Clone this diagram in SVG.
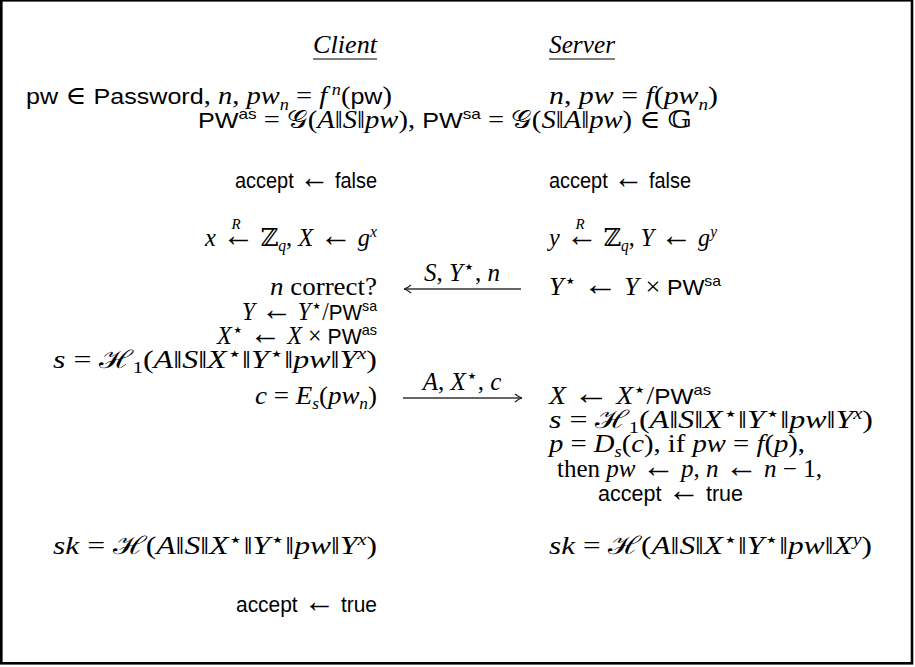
<svg xmlns="http://www.w3.org/2000/svg" width="915" height="667" viewBox="0 0 915 667">
<defs>
<style>
.t{font-family:"Liberation Serif","DejaVu Serif",serif;font-size:25px;fill:#000}
.i{font-style:italic}
.s{font-family:"Liberation Sans","DejaVu Sans",sans-serif;font-size:22px;font-style:normal}
.ar{font-family:"Liberation Sans","DejaVu Sans",sans-serif;font-size:33px;font-style:normal}
.sm{font-size:16px}
.ss{font-size:15px}
.st{font-size:19px;font-style:normal}
.conn{stroke:#333;stroke-width:1.3;fill:none}
</style>
<marker id="ah" viewBox="-9 -5 11 10" refX="0" refY="0" markerWidth="11" markerHeight="10" markerUnits="userSpaceOnUse" orient="auto">
<path d="M -7 -4 Q -3 -0.6 0 0 Q -3 0.6 -7 4" stroke="#222" stroke-width="1.2" fill="none"/>
</marker>
</defs>
<rect x="1.3" y="0.3" width="910.7" height="663" fill="#fff" stroke="#000" stroke-width="2.6"/>

<g id="client-title">
<text class="t i" x="345" y="53" text-anchor="middle" textLength="64" lengthAdjust="spacingAndGlyphs">Client</text>
<line x1="313" y1="59" x2="377" y2="59" stroke="#000" stroke-width="1.2"/>
</g>
<g id="server-title">
<text class="t i" x="549" y="53" textLength="66" lengthAdjust="spacingAndGlyphs">Server</text>
<line x1="549" y1="59" x2="615" y2="59" stroke="#000" stroke-width="1.2"/>
</g>

<g id="init">
<text class="t" x="26" y="104" textLength="366" lengthAdjust="spacingAndGlyphs"><tspan class="s">pw</tspan> ∈ <tspan class="s">Password</tspan>, <tspan class="i">n</tspan>, <tspan class="i">pw</tspan><tspan class="i sm" dy="6">n</tspan><tspan dy="-6"> = </tspan><tspan class="i">f</tspan><tspan class="i sm" dy="-9"> n</tspan><tspan dy="9">(</tspan><tspan class="s">pw</tspan>)</text>
<text class="t" x="549" y="104" textLength="169" lengthAdjust="spacingAndGlyphs"><tspan class="i">n</tspan>, <tspan class="i">pw</tspan> = <tspan class="i">f</tspan>(<tspan class="i">pw</tspan><tspan class="i sm" dy="6">n</tspan><tspan dy="-6">)</tspan></text>
<text class="t" x="198" y="128" textLength="494" lengthAdjust="spacingAndGlyphs"><tspan class="s">PW</tspan><tspan class="s ss" dy="-9">as</tspan><tspan dy="9"> = </tspan>𝒢(<tspan class="i">A</tspan>‖<tspan class="i">S</tspan>‖<tspan class="i">pw</tspan>), <tspan class="s">PW</tspan><tspan class="s ss" dy="-9">sa</tspan><tspan dy="9"> = </tspan>𝒢(<tspan class="i">S</tspan>‖<tspan class="i">A</tspan>‖<tspan class="i">pw</tspan>) ∈ 𝔾</text>
</g>

<g id="client-accept-false">
<text class="t" x="377" y="188" text-anchor="end" textLength="142" lengthAdjust="spacingAndGlyphs"><tspan class="s">accept</tspan> <tspan class="ar">←</tspan> <tspan class="s">false</tspan></text>
</g>
<g id="server-accept-false">
<text class="t" x="549" y="188" textLength="142" lengthAdjust="spacingAndGlyphs"><tspan class="s">accept</tspan> <tspan class="ar">←</tspan> <tspan class="s">false</tspan></text>
</g>

<g id="client-x">
<text class="t" x="377" y="246" text-anchor="end" textLength="172" lengthAdjust="spacingAndGlyphs"><tspan class="i">x</tspan> <tspan class="ar">←</tspan> ℤ<tspan class="i sm" dy="5">q</tspan><tspan dy="-5">, </tspan><tspan class="i">X</tspan> <tspan class="ar">←</tspan> <tspan class="i">g</tspan><tspan class="i sm" dy="-9">x</tspan></text>
<text class="t i ss" x="236" y="229" text-anchor="middle">R</text>
</g>
<g id="server-y">
<text class="t" x="549" y="246" textLength="168" lengthAdjust="spacingAndGlyphs"><tspan class="i">y</tspan> <tspan class="ar">←</tspan> ℤ<tspan class="i sm" dy="5">q</tspan><tspan dy="-5">, </tspan><tspan class="i">Y</tspan> <tspan class="ar">←</tspan> <tspan class="i">g</tspan><tspan class="i sm" dy="-9">y</tspan></text>
<text class="t i ss" x="580" y="229" text-anchor="middle">R</text>
</g>

<g id="client-recv">
<text class="t" x="377" y="295" text-anchor="end" textLength="107" lengthAdjust="spacingAndGlyphs"><tspan class="i">n</tspan> correct?</text>
<text class="t" x="377" y="320" text-anchor="end" textLength="135" lengthAdjust="spacingAndGlyphs"><tspan class="i">Y</tspan> <tspan class="ar">←</tspan> <tspan class="i">Y</tspan><tspan class="st" dy="-8">⋆</tspan><tspan dy="8">/</tspan><tspan class="s">PW</tspan><tspan class="s ss" dy="-9">sa</tspan></text>
<text class="t" x="377" y="344" text-anchor="end" textLength="160" lengthAdjust="spacingAndGlyphs"><tspan class="i">X</tspan><tspan class="st" dy="-8">⋆</tspan><tspan dy="8"> </tspan><tspan class="ar">←</tspan> <tspan class="i">X</tspan> × <tspan class="s">PW</tspan><tspan class="s ss" dy="-9">as</tspan></text>
<text class="t" x="377" y="368" text-anchor="end" textLength="324" lengthAdjust="spacingAndGlyphs"><tspan class="i">s</tspan> = ℋ<tspan class="sm" dy="5">1</tspan><tspan dy="-5">(</tspan><tspan class="i">A</tspan>‖<tspan class="i">S</tspan>‖<tspan class="i">X</tspan><tspan class="st" dy="-8">⋆</tspan><tspan dy="8">‖</tspan><tspan class="i">Y</tspan><tspan class="st" dy="-8">⋆</tspan><tspan dy="8">‖</tspan><tspan class="i">pw</tspan>‖<tspan class="i">Y</tspan><tspan class="i sm" dy="-9">x</tspan><tspan dy="9">)</tspan></text>
<text class="t" x="377" y="404" text-anchor="end" textLength="122" lengthAdjust="spacingAndGlyphs"><tspan class="i">c</tspan> = <tspan class="i">E</tspan><tspan class="i sm" dy="5">s</tspan><tspan dy="-5">(</tspan><tspan class="i">pw</tspan><tspan class="i sm" dy="5">n</tspan><tspan dy="-5">)</tspan></text>
</g>

<g id="server-send">
<text class="t" x="549" y="295" textLength="172" lengthAdjust="spacingAndGlyphs"><tspan class="i">Y</tspan><tspan class="st" dy="-8">⋆</tspan><tspan dy="8"> </tspan><tspan class="ar">←</tspan> <tspan class="i">Y</tspan> × <tspan class="s">PW</tspan><tspan class="s ss" dy="-9">sa</tspan></text>
</g>

<g id="server-recv">
<text class="t" x="549" y="404" textLength="162" lengthAdjust="spacingAndGlyphs"><tspan class="i">X</tspan> <tspan class="ar">←</tspan> <tspan class="i">X</tspan><tspan class="st" dy="-8">⋆</tspan><tspan dy="8">/</tspan><tspan class="s">PW</tspan><tspan class="s ss" dy="-9">as</tspan></text>
<text class="t" x="549" y="428" textLength="324" lengthAdjust="spacingAndGlyphs"><tspan class="i">s</tspan> = ℋ<tspan class="sm" dy="5">1</tspan><tspan dy="-5">(</tspan><tspan class="i">A</tspan>‖<tspan class="i">S</tspan>‖<tspan class="i">X</tspan><tspan class="st" dy="-8">⋆</tspan><tspan dy="8">‖</tspan><tspan class="i">Y</tspan><tspan class="st" dy="-8">⋆</tspan><tspan dy="8">‖</tspan><tspan class="i">pw</tspan>‖<tspan class="i">Y</tspan><tspan class="i sm" dy="-9">x</tspan><tspan dy="9">)</tspan></text>
<text class="t" x="549" y="452" textLength="256" lengthAdjust="spacingAndGlyphs"><tspan class="i">p</tspan> = <tspan class="i">D</tspan><tspan class="i sm" dy="5">s</tspan><tspan dy="-5">(</tspan><tspan class="i">c</tspan>), if <tspan class="i">pw</tspan> = <tspan class="i">f</tspan>(<tspan class="i">p</tspan>),</text>
<text class="t" x="557" y="477" textLength="265" lengthAdjust="spacingAndGlyphs">then <tspan class="i">pw</tspan> <tspan class="ar">←</tspan> <tspan class="i">p</tspan>, <tspan class="i">n</tspan> <tspan class="ar">←</tspan> <tspan class="i">n</tspan> − 1,</text>
<text class="t" x="598" y="501" textLength="145" lengthAdjust="spacingAndGlyphs"><tspan class="s">accept</tspan> <tspan class="ar">←</tspan> <tspan class="s">true</tspan></text>
</g>

<g id="client-key">
<text class="t" x="377" y="554" text-anchor="end" textLength="324" lengthAdjust="spacingAndGlyphs"><tspan class="i">sk</tspan> = ℋ(<tspan class="i">A</tspan>‖<tspan class="i">S</tspan>‖<tspan class="i">X</tspan><tspan class="st" dy="-8">⋆</tspan><tspan dy="8">‖</tspan><tspan class="i">Y</tspan><tspan class="st" dy="-8">⋆</tspan><tspan dy="8">‖</tspan><tspan class="i">pw</tspan>‖<tspan class="i">Y</tspan><tspan class="i sm" dy="-9">x</tspan><tspan dy="9">)</tspan></text>
<text class="t" x="377" y="612" text-anchor="end" textLength="141" lengthAdjust="spacingAndGlyphs"><tspan class="s">accept</tspan> <tspan class="ar">←</tspan> <tspan class="s">true</tspan></text>
</g>
<g id="server-key">
<text class="t" x="549" y="554" textLength="323" lengthAdjust="spacingAndGlyphs"><tspan class="i">sk</tspan> = ℋ(<tspan class="i">A</tspan>‖<tspan class="i">S</tspan>‖<tspan class="i">X</tspan><tspan class="st" dy="-8">⋆</tspan><tspan dy="8">‖</tspan><tspan class="i">Y</tspan><tspan class="st" dy="-8">⋆</tspan><tspan dy="8">‖</tspan><tspan class="i">pw</tspan>‖<tspan class="i">X</tspan><tspan class="i sm" dy="-9">y</tspan><tspan dy="9">)</tspan></text>
</g>

<g id="connectors">
<line class="conn" x1="521" y1="289" x2="404" y2="289" marker-end="url(#ah)"/>
<text class="t" x="462" y="281" text-anchor="middle"><tspan class="i">S</tspan>, <tspan class="i">Y</tspan><tspan class="st" dy="-8">⋆</tspan><tspan dy="8">, </tspan><tspan class="i">n</tspan></text>
<line class="conn" x1="403" y1="398" x2="522" y2="398" marker-end="url(#ah)"/>
<text class="t" x="462" y="390" text-anchor="middle"><tspan class="i">A</tspan>, <tspan class="i">X</tspan><tspan class="st" dy="-8">⋆</tspan><tspan dy="8">, </tspan><tspan class="i">c</tspan></text>
</g>
</svg>
